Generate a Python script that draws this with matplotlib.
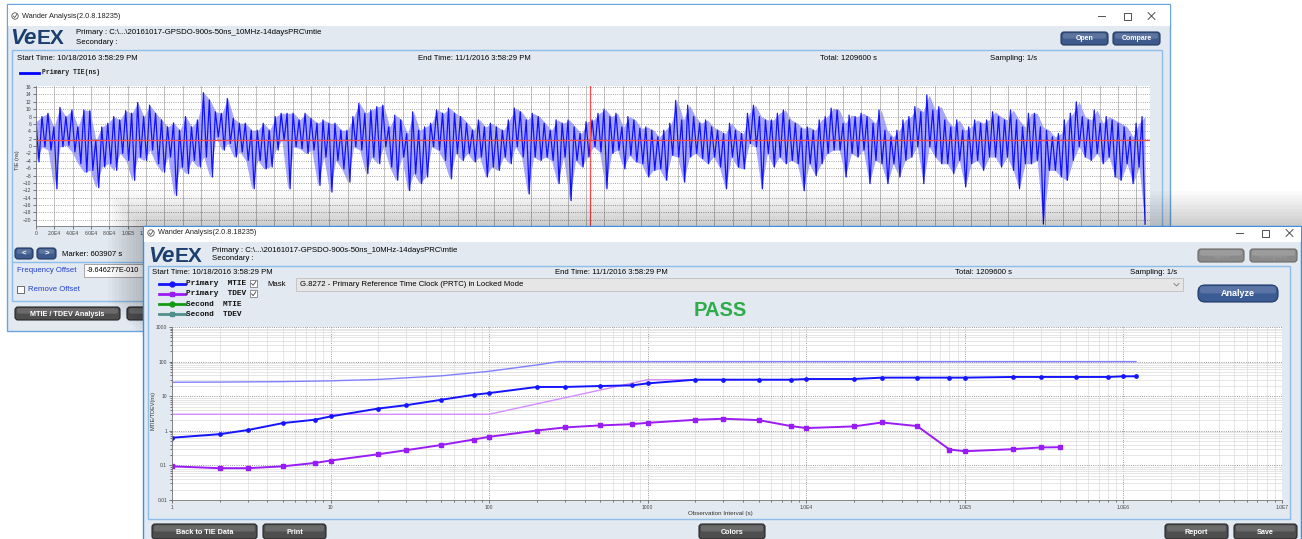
import numpy as np
import matplotlib
matplotlib.use('Agg')
import matplotlib.pyplot as plt
from matplotlib.patches import Rectangle, FancyBboxPatch, Circle
from matplotlib.ticker import FixedLocator, LogLocator, NullFormatter

plt.rcParams['font.family'] = ['Liberation Sans', 'DejaVu Sans']

# ---- data ----
# TIE (ns): local max / min for each ~6.5 ks slice of the 14 day record
tie_hi = [6.6, 8, 8.9, 5.2, 10.5, 8, 9.8, 5.2, 9.8, 9.6, 1.6, 5.2, 6.2, 8, 7.1, 9.6, 8.9, 11.8, 8, 11.1,
          8.9, 7.1, 5.2, 6.3, 4.3, 8, 5.2, 7.1, 14.5, 12.5, 9.3, 8.9, 12.9, 7.5, 6.2, 6.2, 4.3, 4.3, 6.2, 4.3,
          8, 8.9, 8.9, 8.9, 7.1, 8.9, 7.5,
          6.2, 7.1, 6.2, 6.2, 4.3, 4.3, 8, 11.6, 8.9, 9.8, 10.7, 11.1, 5.2, 8.4, 7.1, 3.4, 9.3, 4.3, 5.2, 6.2,
          9.8, 8.9, 10.3, 8.9, 8, 6.2, 4.3, 7.1, 5.2, 6.2, 5.2, 4.3, 7.1, 10.3, 9.3, 7.1, 8.9, 8, 6.2, 4.3,
          7.1, 6.2, 7.1, 5.2, 3.4, 6.6, 7.1,
          8.9, 10, 8, 8.9, 5.2, 8, 7.1, 4.8, 5.2, 4.3, 2.5, 4.3, 6.2, 12.4, 7.1, 11.1, 8, 6.2, 7.1, 5.2,
          4.3, 3.4, 6.2, 4.3, 3.4, 8.9, 11.1, 8, 7.1, 7.1, 8.9, 9.8, 7.1, 6.2, 4.8, 5.2, 4.3, 7.1, 8, 10.3,
          9.8, 6.2, 8.4, 8, 8.9, 8, 6.2,
          9.8, 4.3, 2.5, 4.3, 7.1, 8, 10.7, 9.3, 13.9, 9.8, 10.7, 7.1, 5.2, 7.1, 4.3, 5.2, 7.1, 6.2, 7.1, 9.3,
          8, 7.1, 9.8, 7.1, 5.2, 8.9, 8.9, 5.2, 4.3, 2.5, 3.4, 7.1, 8.9, 12, 8, 7.1, 9.8, 6.2, 8, 7.1,
          6.2, 5.2, 2.5, 6.2, 8]
tie_lo = [-4.3, -0.2, -1.1, -11.6, -0.2, 0.2, -1.6, -4.8, -7.1, -6.6, -11.3, -5.7, -4.8, -6.6, -2, -3.9, -9.3, -3, -3.9, -1.1,
          -4.8, -7.1, -3, -13.4, -5.7, -7.5, -3.9, -5.7, -3, -8.4, 2.5, -1.1, 0.7, -3, -1.6, -3.9, -11.6, -3.9, -6.2, -5.7,
          -1.1, 1.6, -11.6, -0.2, -0.7, -2, -1.1,
          -10.7, -3, -12.5, -3.9, -6.2, -9.8, -0.2, -1.1, -7.5, -3, -4.8, -0.2, -5.7, -9.3, -3, -12.1, -7.5, -10.2, -8.4, -0.2,
          -1.1, -3.9, -8.9, -2, -3.9, -2, -4.3, -3, -8.4, -5.7, -6.6, -3, -4.8, -0.2, -3, -13, -3, -3.9, -3, -3.9,
          -10.2, -3, -14.8, -3.9, -5.7, -3, -0.2,
          -1.6, -11.6, -2, -1.1, -6.2, -2.5, -4.3, -4.8, -8.4, -6.6, -6.2, -9.3, -2.5, -3, -9.8, -3, -2, -3.4, -4.8, -3,
          -5.7, -11.6, -3, -5.7, -6.2, 0.7, -0.2, -11.6, -2, -5.7, -3, -4.8, -3.9, -4.8, -12.1, -4.8, -8, -4.8, -2, -1.1,
          -1.1, -8.4, -2, -3, -1.1, -10.2, -3.9,
          -4.8, -10.2, -4.8, -8.4, -3.9, -3, -0.2, -10.2, -0.2, -3, -4.8, -4.8, -7.5, -3.9, -11.1, -4.8, -3.9, -6.6, -3, -3,
          -5.7, -3, -6.6, -11.6, -4.8, -4.8, -3.9, -21.2, -6.6, -6.6, -8.4, -9.3, -3.9, -0.2, -3, -3.9, -2, -4.8, -3, -8.4,
          -9.3, -4.8, -10.2, -5.7, -21.2]
total_s = 1209600
marker_s = 603907
tie_offset = 1.6

tau_mtie = [1, 2, 3, 5, 8, 10, 20, 30, 50, 80, 100, 200, 300, 500, 800, 1000, 2000, 3000, 5000, 8000,
            1e4, 2e4, 3e4, 5e4, 8e4, 1e5, 2e5, 3e5, 5e5, 8e5, 1e6, 1.2e6]
mtie = [0.63, 0.8, 1.05, 1.67, 2.1, 2.6, 4.4, 5.5, 7.9, 11, 12.3, 18.5, 18.5, 19.7, 20.6, 23.5, 30, 30, 30, 30,
        31.4, 31.4, 34.4, 34.4, 34.4, 34.4, 36, 36, 36, 36, 37.6, 37.6]
tau_tdev = [1, 2, 3, 5, 8, 10, 20, 30, 50, 80, 100, 200, 300, 500, 800, 1000, 2000, 3000, 5000, 8000,
            1e4, 2e4, 3e4, 5e4, 8e4, 1e5, 2e5, 3e5, 4e5]
tdev = [0.094, 0.083, 0.083, 0.094, 0.118, 0.138, 0.21, 0.275, 0.39, 0.56, 0.67, 1.02, 1.25, 1.43, 1.56, 1.7,
        2.08, 2.23, 2.04, 1.37, 1.2, 1.34, 1.74, 1.37, 0.288, 0.257, 0.294, 0.33, 0.336]
mask_mtie_tau = [1, 2, 5, 10, 20, 50, 100, 200, 275, 1.2e6]
mask_mtie = [25.3, 25.6, 26.4, 27.8, 30.5, 38.8, 52.5, 80, 100, 100]
mask_tdev_tau = [1, 100, 1000, 1e4]
mask_tdev = [3, 3, 30, 30]

W, H = 1302, 539
BODY = '#e2e9f1'
EDGE = '#8dbde8'
FS = 5.6
MONO = ['Liberation Mono', 'DejaVu Sans Mono']

fig = plt.figure(figsize=(W / 100, H / 100), dpi=100)
fig.patch.set_facecolor('white')


def px_axes(x0, y0, x1, y1, z):
    ax = fig.add_axes([x0 / W, 1 - y1 / H, (x1 - x0) / W, (y1 - y0) / H])
    ax.set_zorder(z)
    return ax


def canvas(z):
    ax = px_axes(0, 0, W, H, z)
    ax.set_xlim(0, W)
    ax.set_ylim(H, 0)
    ax.axis('off')
    return ax


def box(ax, x0, y0, x1, y1, fc, ec='none', lw=0.8, alpha=1):
    ax.add_patch(Rectangle((x0, y0), x1 - x0, y1 - y0, fc=fc, ec=ec, lw=lw, alpha=alpha))


def button(ax, x0, y0, x1, y1, label, fc='#4e4e4e', ec='#262626', tc='white', fs=5.2, r=3):
    ax.add_patch(FancyBboxPatch((x0, y0), x1 - x0, y1 - y0, boxstyle='round,pad=0,rounding_size=%s' % r,
                                fc=fc, ec=ec, lw=0.8))
    ax.add_patch(FancyBboxPatch((x0 + 2, y0 + 1.2), x1 - x0 - 4, (y1 - y0) * 0.42,
                                boxstyle='round,pad=0,rounding_size=2', fc='white', ec='none', alpha=0.16))
    if label:
        ax.text((x0 + x1) / 2, (y0 + y1) / 2 + 0.5, label, color=tc, fontsize=fs, fontweight='bold',
                ha='center', va='center')


def title_bar(ax, x0, y, right):
    ax.add_patch(Circle((x0 + 7, y), 3.2, fc='white', ec='#555', lw=0.6))
    ax.plot([x0 + 5.3, x0 + 6.7, x0 + 8.8], [y, y + 1.5, y - 1.6], color='#333', lw=0.5)
    ax.text(x0 + 14, y, 'Wander Analysis(2.0.8.18235)', fontsize=5.3, va='center', color='#222')
    ax.plot([right - 54, right - 47], [y, y], color='#333', lw=0.6)
    box(ax, right - 28, y - 3.5, right - 21, y + 3.5, 'none', '#333', 0.6)
    ax.plot([right - 4, right + 3], [y - 3.5, y + 3.5], color='#333', lw=0.6)
    ax.plot([right - 4, right + 3], [y + 3.5, y - 3.5], color='#333', lw=0.6)


def logo(ax, x, y):
    ax.text(x, y, 'Ve', fontsize=16, fontweight='bold', style='italic', color='#1d3f6e', va='center')
    ax.text(x + 27, y + 1, 'EX', fontsize=15, fontweight='bold', color='#1d3f6e', va='center')


def sci(v):
    if v == 0:
        return '0'
    e = int(np.floor(np.log10(v) + 1e-9))
    return '%.1fE%d' % (v / 10 ** e, e)


# ---------------- back window ----------------
c1 = canvas(0)
box(c1, 7, 4, 1170, 331, BODY, '#6aa6dc', 1)
box(c1, 7.5, 4.5, 1169.5, 26, 'white')
title_bar(c1, 8, 16, 1152)
logo(c1, 10, 38)
c1.text(76, 33, 'Primary : C:\\...\\20161017-GPSDO-900s-50ns_10MHz-14daysPRC\\mtie', fontsize=FS, va='center')
c1.text(76, 42, 'Secondary :', fontsize=FS, va='center')
button(c1, 1061, 32, 1108, 45, 'Open', fc='#3e5a8c', ec='#22385e', fs=5)
button(c1, 1113, 32, 1160, 45, 'Compare', fc='#3e5a8c', ec='#22385e', fs=5)
box(c1, 12, 50, 1162, 301, BODY, EDGE, 1)
c1.plot([12, 200], [262, 262], color=EDGE, lw=1)
c1.text(17, 59, 'Start Time: 10/18/2016 3:58:29 PM', fontsize=FS, va='center')
c1.text(418, 59, 'End Time: 11/1/2016 3:58:29 PM', fontsize=FS, va='center')
c1.text(820, 59, 'Total: 1209600 s', fontsize=FS, va='center')
c1.text(990, 59, 'Sampling: 1/s', fontsize=FS, va='center')
c1.plot([20, 39], [73, 73], color='#0000ff', lw=2)
c1.text(42, 73, 'Primary TIE(ns)', fontsize=4.7, fontweight='bold', va='center', family=MONO, color='#222')
c1.text(18, 160, 'TIE (ns)', fontsize=4, rotation=90, ha='center', va='center', color='#333')
button(c1, 15, 248, 33, 259, '<', fc='#3e5a8c', ec='#22385e', fs=5.5)
button(c1, 37, 248, 56, 259, '>', fc='#3e5a8c', ec='#22385e', fs=5.5)
c1.text(62, 254, 'Marker: 603907 s', fontsize=FS, va='center')
c1.text(17, 270, 'Frequency Offset', fontsize=FS, va='center', color='#2340d0')
box(c1, 84, 264, 160, 277, 'white', '#9a9a9a', 0.6)
c1.text(87, 270.5, '-9.646277E-010', fontsize=5.2, va='center')
box(c1, 17, 286, 24, 293, 'white', '#555', 0.6)
c1.text(28, 289.5, 'Remove Offset', fontsize=FS, va='center', color='#2340d0')
button(c1, 15, 307, 120, 320, 'MTIE / TDEV Analysis')
button(c1, 127, 307, 190, 320, '')

# ---------------- TIE plot ----------------
ax1 = px_axes(36, 86, 1150, 226, 1)
seg_t = np.linspace(0, total_s, len(tie_hi))
tie_v = np.ravel(np.column_stack([tie_hi, tie_lo]))
tie_t = np.linspace(0, total_s, len(tie_v))
ax1.fill_between(seg_t, tie_lo, tie_hi, color='#3c3cff', alpha=0.45, lw=0)
ax1.plot(tie_t, tie_v, color='#0000ff', lw=0.9, alpha=0.9)
ax1.axhline(tie_offset, color='#ff4a4a', lw=0.9)
ax1.axvline(marker_s, color='#ff4a4a', lw=0.9)
ax1.set_xlim(0, 1.215e6)
ax1.set_ylim(-21.7, 16.3)
ax1.yaxis.set_major_locator(FixedLocator(np.arange(-20, 17, 2)))
xt = np.arange(0, 1.2e6 + 1, 2e4)
ax1.xaxis.set_major_locator(FixedLocator(xt))
# only the first labels are not hidden by the front window
ax1.set_xticklabels([sci(v) if v <= 1.2e5 else '' for v in xt])
ax1.grid(axis='y', ls=':', color='#888', lw=0.6)
ax1.grid(axis='x', ls='-', color='#b5b5b5', lw=0.6)
ax1.tick_params(labelsize=3.6, length=2, width=0.5, pad=1.5, colors='#444')
for s in ['top', 'right']:
    ax1.spines[s].set_visible(False)
for s in ['left', 'bottom']:
    ax1.spines[s].set_color('#777')
    ax1.spines[s].set_linewidth(0.6)

# ---------------- front window ----------------
c2 = canvas(2)
for i in range(10):
    d = 3.5 * (i + 1)
    box(c2, 143 - d, 226 - d, 1310, 331 + 8 - d, 'black', alpha=0.018)
box(c2, 143, 226, 1301, 545, BODY, '#3d8ee0', 1)
box(c2, 143.5, 226.5, 1300.5, 242, 'white')
title_bar(c2, 144, 233, 1290)
logo(c2, 148, 256)
c2.text(212, 250, 'Primary : C:\\...\\20161017-GPSDO-900s-50ns_10MHz-14daysPRC\\mtie', fontsize=FS, va='center')
c2.text(212, 259, 'Secondary :', fontsize=FS, va='center')
button(c2, 1198, 249, 1244, 262, 'Open', fc='#8a8a8a', ec='#6a6a6a', tc='#9a9a9a', fs=4.8)
button(c2, 1250, 249, 1297, 262, 'Compare', fc='#8a8a8a', ec='#6a6a6a', tc='#9a9a9a', fs=4.8)
box(c2, 148, 266, 1290, 519, BODY, EDGE, 1)
c2.text(152, 272, 'Start Time: 10/18/2016 3:58:29 PM', fontsize=FS, va='center')
c2.text(555, 272, 'End Time: 11/1/2016 3:58:29 PM', fontsize=FS, va='center')
c2.text(955, 272, 'Total: 1209600 s', fontsize=FS, va='center')
c2.text(1130, 272, 'Sampling: 1/s', fontsize=FS, va='center')

legend_rows = [('Primary  MTIE', '#1414ff', 'o', True), ('Primary  TDEV', '#9a1cf5', 's', True),
               ('Second  MTIE', '#139a13', 'o', False), ('Second  TDEV', '#4f8f8c', 's', False)]
for i, (name, col, mk, checked) in enumerate(legend_rows):
    y = 283.5 + i * 10.3
    c2.plot([159, 185], [y, y], color=col, lw=2)
    c2.plot([172], [y], marker=mk, color=col, ms=3.5)
    c2.text(186, y, name, fontsize=5.6, fontweight='bold', va='center', family=MONO, color='#111')
    if checked:
        box(c2, 250, y - 3.5, 257, y + 3.5, 'white', '#666', 0.5)
        c2.plot([251.5, 253.2, 255.8], [y, y + 1.8, y - 2], color='#444', lw=0.6)
c2.text(267, 285, 'Mask', fontsize=FS, va='center')
box(c2, 296, 278, 1183, 291, '#e6e6e6', '#c3c3c3', 0.7)
c2.text(300, 284.8, 'G.8272 - Primary Reference Time Clock (PRTC) in Locked Mode', fontsize=FS, va='center')
c2.plot([1174, 1176.5, 1179], [283.5, 286, 283.5], color='#777', lw=0.6)
button(c2, 1198, 285, 1278, 302, 'Analyze', fc='#3b5b94', ec='#1e3766', fs=6.5, r=7)
c2.text(720, 310, 'PASS', fontsize=14.5, fontweight='bold', color='#2eac4a', ha='center', va='center')
c2.text(153, 410, 'MTIE/TDEV(ns)', fontsize=4, rotation=90, ha='center', va='center', color='#333')
c2.text(720, 513, 'Observation Interval (s)', fontsize=4.5, ha='center', va='center', color='#333')
button(c2, 152, 524, 257, 539, 'Back to TIE Data')
button(c2, 263, 524, 326, 539, 'Print')
button(c2, 699, 524, 765, 539, 'Colors')
button(c2, 1165, 524, 1228, 539, 'Report')
button(c2, 1234, 524, 1297, 539, 'Save')

# ---------------- MTIE / TDEV plot ----------------
ax2 = px_axes(172, 327, 1282, 500, 3)
ax2.set_facecolor('white')
ax2.set_xscale('log')
ax2.set_yscale('log')
ax2.plot(mask_mtie_tau, mask_mtie, color='#8080ff', lw=1.0)
ax2.plot(mask_tdev_tau, mask_tdev, color='#d48cff', lw=1.0)
ax2.plot(tau_mtie, mtie, color='#1414ff', lw=1.4, marker='o', ms=2.4)
ax2.plot(tau_tdev, tdev, color='#9a1cf5', lw=1.4, marker='s', ms=2.4)
ax2.set_xlim(1, 1e7)
ax2.set_ylim(0.01, 1000)
xd = [1, 10, 100, 1000, 1e4, 1e5, 1e6, 1e7]
ax2.xaxis.set_major_locator(FixedLocator(xd))
ax2.set_xticklabels(['1', '10', '100', '1000', '1.0E4', '1.0E5', '1.0E6', '1.0E7'])
yd = [0.01, 0.1, 1, 10, 100, 1000]
ax2.yaxis.set_major_locator(FixedLocator(yd))
ax2.set_yticklabels(['0.01', '0.1', '1', '10', '100', '1000'])
for a in (ax2.xaxis, ax2.yaxis):
    a.set_minor_locator(LogLocator(base=10, subs=range(2, 10), numticks=20))
    a.set_minor_formatter(NullFormatter())
ax2.grid(which='major', ls=':', color='#777', lw=0.6)
ax2.grid(which='minor', ls='-', color='#dcdcdc', lw=0.5)
ax2.set_axisbelow(True)
ax2.tick_params(which='both', labelsize=3.6, length=2, width=0.5, pad=1.5, colors='#444')
ax2.tick_params(which='minor', length=1.5)
for s in ['top', 'right']:
    ax2.spines[s].set_visible(False)
for s in ['left', 'bottom']:
    ax2.spines[s].set_color('#777')
    ax2.spines[s].set_linewidth(0.6)

fig.savefig('out.png', dpi=100)
